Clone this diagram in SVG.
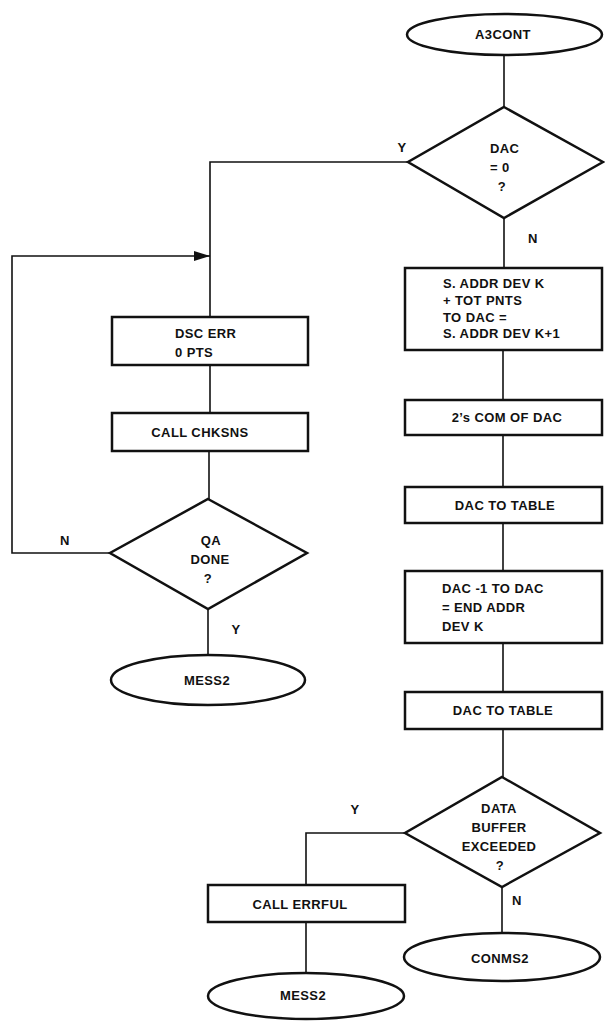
<svg xmlns="http://www.w3.org/2000/svg" width="605" height="1021" viewBox="0 0 605 1021">
<style>
.shape{fill:#fff;stroke:#111;stroke-width:2.5}
.conn{fill:none;stroke:#111;stroke-width:1.6}
text{font-family:"Liberation Sans",Arial,sans-serif;font-weight:bold;font-size:13px;letter-spacing:0.4px;fill:#111}
.c{text-anchor:middle}
</style>
<defs>
<marker id="arr" viewBox="0 0 16 10" refX="16" refY="5" markerWidth="16" markerHeight="10" markerUnits="userSpaceOnUse" orient="auto">
<path d="M0,0 L16,5 L0,10 Z" fill="#111"/>
</marker>
</defs>
<rect width="605" height="1021" fill="#fff"/>
<g id="connectors">
<line class="conn" x1="504" y1="55" x2="504" y2="107"/>
<polyline class="conn" points="408,162 210,162 210,317"/>
<polyline class="conn" points="110,553 12,553 12,256 210,256" marker-end="url(#arr)"/>
<line class="conn" x1="210" y1="365" x2="210" y2="413"/>
<line class="conn" x1="209" y1="451" x2="209" y2="499"/>
<line class="conn" x1="208" y1="609" x2="208" y2="655"/>
<line class="conn" x1="504" y1="218" x2="504" y2="268"/>
<line class="conn" x1="503" y1="350" x2="503" y2="400"/>
<line class="conn" x1="503" y1="435" x2="503" y2="487"/>
<line class="conn" x1="503" y1="523" x2="503" y2="571"/>
<line class="conn" x1="503" y1="643" x2="503" y2="692"/>
<line class="conn" x1="503" y1="729" x2="503" y2="777"/>
<polyline class="conn" points="405,833 306,833 306,885"/>
<line class="conn" x1="306" y1="922" x2="306" y2="973"/>
<line class="conn" x1="502" y1="887" x2="502" y2="933"/>
<text class="c" x="402" y="152">Y</text>
<text class="c" x="533" y="243">N</text>
<text class="c" x="65" y="545">N</text>
<text class="c" x="236" y="634">Y</text>
<text class="c" x="355" y="814">Y</text>
<text class="c" x="517" y="905">N</text>
</g>
<g id="a3cont">
<ellipse class="shape" cx="504.5" cy="34.5" rx="97.5" ry="20.5"/>
<text class="c" x="503" y="39">A3CONT</text>
</g>
<g id="dac0">
<polygon class="shape" points="504,107 603,162 504,218 408,162"/>
<text x="490" y="153">DAC</text>
<text x="490" y="172">= 0</text>
<text class="c" x="502" y="191">?</text>
</g>
<g id="saddr">
<rect class="shape" x="405" y="268" width="197" height="82"/>
<text x="443" y="288">S. ADDR DEV K</text>
<text x="443" y="305">+ TOT PNTS</text>
<text x="443" y="322">TO DAC =</text>
<text x="443" y="338">S. ADDR DEV K+1</text>
</g>
<g id="twoscom">
<rect class="shape" x="405" y="400" width="197" height="35"/>
<text class="c" x="507" y="422">2’s COM OF DAC</text>
</g>
<g id="dactable1">
<rect class="shape" x="405" y="487" width="197" height="36"/>
<text class="c" x="505" y="510">DAC TO TABLE</text>
</g>
<g id="dacminus">
<rect class="shape" x="405" y="571" width="197" height="72"/>
<text x="442" y="593">DAC -1 TO DAC</text>
<text x="442" y="612">= END ADDR</text>
<text x="442" y="631">DEV K</text>
</g>
<g id="dactable2">
<rect class="shape" x="405" y="692" width="197" height="37"/>
<text class="c" x="503" y="715">DAC TO TABLE</text>
</g>
<g id="databuffer">
<polygon class="shape" points="502,777 600,833 502,887 405,833"/>
<text class="c" x="499" y="813">DATA</text>
<text class="c" x="499" y="832">BUFFER</text>
<text class="c" x="499" y="851">EXCEEDED</text>
<text class="c" x="500" y="870">?</text>
</g>
<g id="callerrful">
<rect class="shape" x="208" y="885" width="197" height="37"/>
<text class="c" x="300" y="909">CALL ERRFUL</text>
</g>
<g id="mess2b">
<ellipse class="shape" cx="306" cy="996" rx="98" ry="23"/>
<text class="c" x="303" y="1000">MESS2</text>
</g>
<g id="conms2">
<ellipse class="shape" cx="502" cy="957" rx="98" ry="24"/>
<text class="c" x="500" y="963">CONMS2</text>
</g>
<g id="dscerr">
<rect class="shape" x="112" y="317" width="196" height="48"/>
<text x="175" y="338">DSC ERR</text>
<text x="175" y="357">0 PTS</text>
</g>
<g id="chksns">
<rect class="shape" x="112" y="413" width="196" height="38"/>
<text class="c" x="200" y="437">CALL CHKSNS</text>
</g>
<g id="qadone">
<polygon class="shape" points="208,499 307,553 208,609 110,553"/>
<text class="c" x="211" y="545">QA</text>
<text class="c" x="210" y="564">DONE</text>
<text class="c" x="208" y="583">?</text>
</g>
<g id="mess2a">
<ellipse class="shape" cx="208" cy="680" rx="97" ry="25"/>
<text class="c" x="207" y="685">MESS2</text>
</g>
</svg>
